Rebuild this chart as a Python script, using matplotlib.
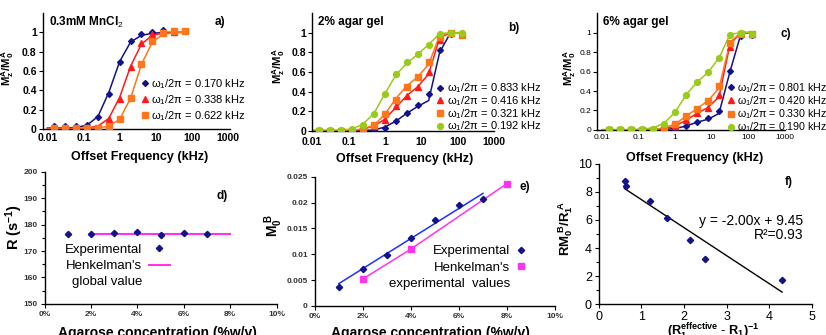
import numpy as np
import matplotlib
matplotlib.use('Agg')
import matplotlib.pyplot as plt
from matplotlib.lines import Line2D
from matplotlib.ticker import FuncFormatter, MultipleLocator, NullLocator

plt.rcParams['font.family'] = ['Liberation Sans', 'DejaVu Sans']
plt.rcParams['mathtext.fontset'] = 'custom'
plt.rcParams['mathtext.rm'] = 'Liberation Sans'
plt.rcParams['mathtext.it'] = 'Liberation Sans:italic'
plt.rcParams['mathtext.bf'] = 'Liberation Sans:bold'

NAVY = '#12128a'
RED = '#ff1a1a'
ORANGE = '#ff761a'
GREEN = '#99cc1a'
PINK = '#ff33ee'
nan = np.nan

# offset frequencies (kHz), measured points and fitted curves
freq = [1/64, 1/32, 1/16, 1/8, 1/4, 1/2, 1, 2, 4, 8, 16, 32, 64, 128]
freq_fit = [0.01] + freq

# a) 0.3mM MnCl2
a_labels = ['0.170', '0.338', '0.622']
a_pts = [
    [0.03, 0.03, 0.03, 0.04, 0.12, 0.36, 0.69, 0.91, 0.98, 1.00, 1.02, nan, nan, nan],
    [0.01, 0.01, 0.01, 0.01, 0.01, 0.10, 0.31, 0.64, 0.89, 0.98, 1.00, 1.00, nan, nan],
    [0.01, 0.01, 0.01, 0.01, 0.01, 0.03, 0.10, 0.32, 0.67, 0.91, 0.99, 1.01, 1.01, nan],
]
a_fit = [
    [0.01, 0.01, 0.01, 0.015, 0.04, 0.13, 0.38, 0.70, 0.90, 0.97, 0.99, 1.0, 1.0, 1.0, nan],
    [0.005, 0.005, 0.005, 0.005, 0.01, 0.03, 0.11, 0.33, 0.65, 0.88, 0.97, 0.99, 1.0, 1.0, nan],
    [0.005, 0.005, 0.005, 0.005, 0.005, 0.01, 0.03, 0.10, 0.32, 0.67, 0.90, 0.98, 1.0, 1.0, nan],
]

# b) 2% agar gel
b_labels = ['0.833', '0.416', '0.321', '0.192']
b_pts = [
    [0.0, 0.0, 0.0, 0.0, 0.0, 0.01, 0.03, 0.10, 0.18, 0.26, 0.38, 0.82, 0.99, nan],
    [0.0, 0.0, 0.0, 0.0, 0.02, 0.05, 0.11, 0.25, 0.36, 0.45, 0.60, 0.93, 1.00, 0.99],
    [0.0, 0.0, 0.0, 0.0, 0.02, 0.06, 0.17, 0.32, 0.45, 0.55, 0.70, 0.96, 1.00, 0.98],
    [0.01, 0.01, 0.01, 0.02, 0.06, 0.17, 0.38, 0.58, 0.70, 0.78, 0.88, 0.99, 1.00, 1.00],
]
b_fit = [
    [0.0, 0.0, 0.0, 0.0, 0.0, 0.005, 0.01, 0.04, 0.10, 0.18, 0.25, 0.31, 0.80, 1.0, nan],
    [0.0, 0.0, 0.0, 0.0, 0.005, 0.02, 0.05, 0.12, 0.24, 0.36, 0.45, 0.58, 0.95, 1.0, 1.0],
    [0.0, 0.0, 0.0, 0.0, 0.005, 0.02, 0.06, 0.17, 0.33, 0.46, 0.55, 0.68, 0.97, 1.0, 1.0],
    [0.01, 0.01, 0.01, 0.01, 0.02, 0.07, 0.18, 0.38, 0.57, 0.69, 0.78, 0.88, 0.99, 1.0, 1.0],
]

# c) 6% agar gel
c_labels = ['0.801', '0.420', '0.330', '0.190']
c_pts = [
    [0.0, 0.0, 0.0, 0.0, 0.0, 0.0, 0.01, 0.04, 0.08, 0.12, 0.19, 0.61, 0.96, 0.97],
    [0.0, 0.0, 0.0, 0.0, 0.0, 0.01, 0.04, 0.10, 0.17, 0.23, 0.36, 0.85, 1.00, 0.98],
    [0.0, 0.0, 0.0, 0.0, 0.0, 0.02, 0.06, 0.14, 0.22, 0.30, 0.45, 0.89, 0.99, 0.99],
    [0.01, 0.01, 0.01, 0.01, 0.01, 0.06, 0.18, 0.36, 0.49, 0.60, 0.74, 0.97, 1.00, 0.99],
]
c_fit = [
    [0.0, 0.0, 0.0, 0.0, 0.0, 0.0, 0.005, 0.015, 0.04, 0.08, 0.11, 0.17, 0.60, 0.99, 1.0],
    [0.0, 0.0, 0.0, 0.0, 0.0, 0.0, 0.01, 0.04, 0.10, 0.17, 0.23, 0.34, 0.88, 1.0, 1.0],
    [0.0, 0.0, 0.0, 0.0, 0.0, 0.005, 0.02, 0.06, 0.14, 0.22, 0.30, 0.43, 0.90, 1.0, 1.0],
    [0.005, 0.005, 0.005, 0.005, 0.01, 0.02, 0.07, 0.18, 0.36, 0.49, 0.59, 0.74, 0.98, 1.0, 1.0],
]

# d) exchange rate R vs agarose concentration
d_conc = [1, 2, 3, 4, 5, 6, 7]
d_R = [176.6, 176.3, 176.7, 177.1, 176.0, 176.9, 176.3]
d_henk_x = [2, 8]
d_henk_y = [176.3, 176.3]

# e) M0B vs concentration
e_conc = [1, 2, 3, 4, 5, 6, 7]
e_m0b = [0.0037, 0.0071, 0.0099, 0.0131, 0.0166, 0.0195, 0.0207]
e_fit_x = [1, 7]
e_fit_y = [0.0043, 0.0218]
e_henk_x = [2, 4, 8]
e_henk_y = [0.0052, 0.0110, 0.0237]

# f) RM0B/R1A vs (R1eff - R1)^-1
f_x = [0.61, 0.63, 1.19, 1.59, 2.15, 2.50, 4.29]
f_y = [8.80, 8.45, 7.35, 6.15, 4.55, 3.25, 1.70]
f_fit_x = [0.6, 4.3]
f_fit_y = [8.25, 0.85]

fig = plt.figure(figsize=(8.26, 3.35), dpi=100)


def style_axes(ax):
    for s in ('top', 'right'):
        ax.spines[s].set_visible(False)
    for s in ('left', 'bottom'):
        ax.spines[s].set_linewidth(1.0)


colors4 = [NAVY, RED, ORANGE, GREEN]
markers4 = ['D', '^', 's', 'o']
msizes4 = [3.0, 4.0, 4.0, 4.2]


def freq_panel(rect, pts, fits, labels, cols, mks, mss, title, tag, tag_xy,
               leg_xy, xlim, small=False, ylab_xy=(-0.16, 0.53), xlab_xy=(0.52, -0.19),
               labsp=0.2, legfs=8, xpad=3):
    ax = fig.add_axes(rect)
    style_axes(ax)
    ax.set_xscale('log')
    for yf, col in zip(fits, cols):
        ax.plot(freq_fit, yf, color=col, lw=1.1, zorder=2)
    handles = []
    for yp, col, mk, ms, lab in zip(pts, cols, mks, mss, labels):
        h, = ax.plot(freq, yp, ls='none', marker=mk, ms=ms, color=col, mec=col,
                     zorder=3, label='ω$_1$/2π = %s kHz' % lab)
        handles.append(h)
    ax.set_xlim(*xlim)
    ax.set_ylim(0, 1.2)
    ax.set_xticks([0.01, 0.1, 1, 10, 100, 1000])
    ax.set_xticklabels(['0.01', '0.1', '1', '10', '100', '1000'])
    ax.xaxis.set_minor_locator(NullLocator())
    ax.set_yticks([0, 0.2, 0.4, 0.6, 0.8, 1.0])
    ax.yaxis.set_major_formatter(FuncFormatter(lambda v, p: '%g' % v))
    fs = 6 if small else 7.5
    fw = 'normal' if small else 'bold'
    ax.tick_params(axis='x', length=0, pad=xpad, labelsize=fs)
    ax.tick_params(axis='y', length=3, width=0.8, pad=1.5, labelsize=fs)
    for t in ax.get_xticklabels() + ax.get_yticklabels():
        t.set_fontweight(fw)
    ax.set_ylabel(r'$\mathbf{M_z^{A}/M_0^{A}}$', fontsize=8.2)
    ax.yaxis.set_label_coords(*ylab_xy)
    ax.set_xlabel('Offset Frequency (kHz)', fontsize=9, fontweight='bold')
    ax.xaxis.set_label_coords(*xlab_xy)
    ax.text(0.03, 0.92, title, transform=ax.transAxes, fontsize=8.5,
            fontweight='bold', va='center', ha='left')
    ax.text(tag_xy[0], tag_xy[1], tag, transform=ax.transAxes, fontsize=8.5,
            fontweight='bold', va='center', ha='left')
    ax.legend(handles=handles, loc='upper left', bbox_to_anchor=leg_xy,
              frameon=False, fontsize=legfs, handlelength=0.5, handletextpad=0.3,
              borderpad=0, borderaxespad=0, labelspacing=labsp, numpoints=1)
    return ax


freq_panel([0.052, 0.615, 0.226, 0.346], a_pts, a_fit, a_labels,
           [NAVY, RED, ORANGE], ['D', '^', 's'], [3.0, 4.0, 4.0],
           '0.3mM MnCl$_2$', 'a)', (0.92, 0.92), (0.53, 0.45),
           (0.0075, 1100), ylab_xy=(-0.145, 0.53), xlab_xy=(0.52, -0.19), labsp=0.22)
freq_panel([0.378, 0.609, 0.220, 0.352], b_pts, b_fit, b_labels,
           colors4, markers4, msizes4,
           '2% agar gel', 'b)', (1.08, 0.87), (0.69, 0.42),
           (0.01, 1000), ylab_xy=(-0.137, 0.55), xlab_xy=(0.51, -0.185), labsp=-0.1,
           xpad=4.5)
freq_panel([0.723, 0.612, 0.227, 0.349], c_pts, c_fit, c_labels,
           colors4, markers4, msizes4,
           '6% agar gel', 'c)', (0.98, 0.82), (0.70, 0.42),
           (0.0075, 1000), small=True, ylab_xy=(-0.1, 0.53), xlab_xy=(0.52, -0.188),
           labsp=-0.05, legfs=7.7)

pct = FuncFormatter(lambda v, p: '%d%%' % round(v))

# d)
axd = fig.add_axes([0.054, 0.093, 0.281, 0.394])
style_axes(axd)
pd_, = axd.plot(d_conc, d_R, ls='none', marker='D', ms=3.2, color=NAVY, zorder=3)
hd, = axd.plot(d_henk_x, d_henk_y, color=PINK, lw=1.5, zorder=2)
axd.set_xlim(0, 10)
axd.set_ylim(150, 200)
axd.xaxis.set_major_locator(MultipleLocator(2))
axd.xaxis.set_major_formatter(pct)
axd.yaxis.set_major_locator(MultipleLocator(10))
axd.yaxis.set_minor_locator(MultipleLocator(5))
axd.tick_params(axis='both', which='major', length=3, width=0.8, labelsize=6, pad=2,
                labelcolor='#333333')
axd.tick_params(axis='y', which='minor', length=2, width=0.8)
for t in axd.get_xticklabels() + axd.get_yticklabels():
    t.set_fontweight('bold')
axd.set_ylabel('R (s$^{\\mathbf{-1}}$)', fontsize=10.5, fontweight='bold')
axd.yaxis.set_label_coords(-0.086, 0.58)
axd.set_xlabel('Agarose concentration (%w/v)', fontsize=10, fontweight='bold')
axd.xaxis.set_label_coords(0.485, -0.167)
axd.text(0.74, 0.82, 'd)', transform=axd.transAxes, fontsize=8.5, fontweight='bold',
         va='center')
blank = Line2D([], [], ls='none')
axd.legend([pd_, hd, blank], ['Experimental', "Henkelman's", 'global value'],
           markerfirst=False, loc='upper left', bbox_to_anchor=(0.088, 0.455),
           frameon=False, fontsize=9.5, handlelength=1.6, handletextpad=0.5,
           borderpad=0, borderaxespad=0, labelspacing=0.3, numpoints=1)

# e)
axe = fig.add_axes([0.381, 0.087, 0.291, 0.385])
style_axes(axe)
axe.plot(e_fit_x, e_fit_y, color='#1f30ff', lw=1.1, zorder=2)
axe.plot(e_henk_x, e_henk_y, color=PINK, lw=1.1, zorder=2)
pe, = axe.plot(e_conc, e_m0b, ls='none', marker='D', ms=3.2, color=NAVY, zorder=3)
he, = axe.plot(e_henk_x, e_henk_y, ls='none', marker='s', ms=4, color=PINK, zorder=3)
axe.set_xlim(0, 10)
axe.set_ylim(0, 0.025)
axe.xaxis.set_major_locator(MultipleLocator(2))
axe.xaxis.set_major_formatter(pct)
axe.yaxis.set_major_locator(MultipleLocator(0.005))
axe.yaxis.set_major_formatter(FuncFormatter(lambda v, p: '%g' % round(v, 3)))
axe.tick_params(axis='both', which='major', length=3, width=0.8, labelsize=6, pad=2,
                labelcolor='#333333')
for t in axe.get_xticklabels() + axe.get_yticklabels():
    t.set_fontweight('bold')
axe.set_ylabel(r'$\mathbf{M_0^{\ B}}$', fontsize=10)
axe.yaxis.set_label_coords(-0.125, 0.62)
axe.set_xlabel('Agarose concentration (%w/v)', fontsize=10, fontweight='bold')
axe.xaxis.set_label_coords(0.48, -0.155)
axe.text(0.85, 0.92, 'e)', transform=axe.transAxes, fontsize=8.5, fontweight='bold',
         va='center')
axe.legend([pe, he, blank], ['Experimental', "Henkelman's", 'experimental  values'],
           markerfirst=False, loc='upper left', bbox_to_anchor=(0.31, 0.47),
           frameon=False, fontsize=9.5, handlelength=1.0, handletextpad=0.3,
           borderpad=0, borderaxespad=0, labelspacing=0.3, numpoints=1)

# f)
axf = fig.add_axes([0.725, 0.0925, 0.258, 0.418])
style_axes(axf)
axf.plot(f_fit_x, f_fit_y, color='black', lw=1.0, zorder=2)
axf.plot(f_x, f_y, ls='none', marker='D', ms=3.2, color=NAVY, zorder=3)
axf.set_xlim(0, 5)
axf.set_ylim(0, 10)
axf.xaxis.set_major_locator(MultipleLocator(1))
axf.yaxis.set_major_locator(MultipleLocator(2))
axf.yaxis.set_minor_locator(MultipleLocator(1))
axf.tick_params(axis='both', which='major', length=3, width=0.8, labelsize=9, pad=2)
axf.tick_params(axis='y', which='minor', length=2, width=0.8)
axf.set_ylabel(r'$\mathbf{RM_0^{\ B}/R_1^{\ A}}$', fontsize=9.5)
axf.yaxis.set_label_coords(-0.113, 0.54)
axf.set_xlabel(r'$\mathbf{(R_1^{effective}\ \text{-}\ R_1)^{-1}}$', fontsize=9.2)
axf.xaxis.set_label_coords(0.535, -0.13)
axf.text(0.873, 0.87, 'f)', transform=axf.transAxes, fontsize=8.5, fontweight='bold',
         va='center')
axf.text(0.958, 0.59, 'y = -2.00x + 9.45', transform=axf.transAxes, fontsize=10,
         ha='right', va='center')
axf.text(0.958, 0.49, 'R²=0.93', transform=axf.transAxes, fontsize=10,
         ha='right', va='center')

fig.savefig('out.png', dpi=100)
